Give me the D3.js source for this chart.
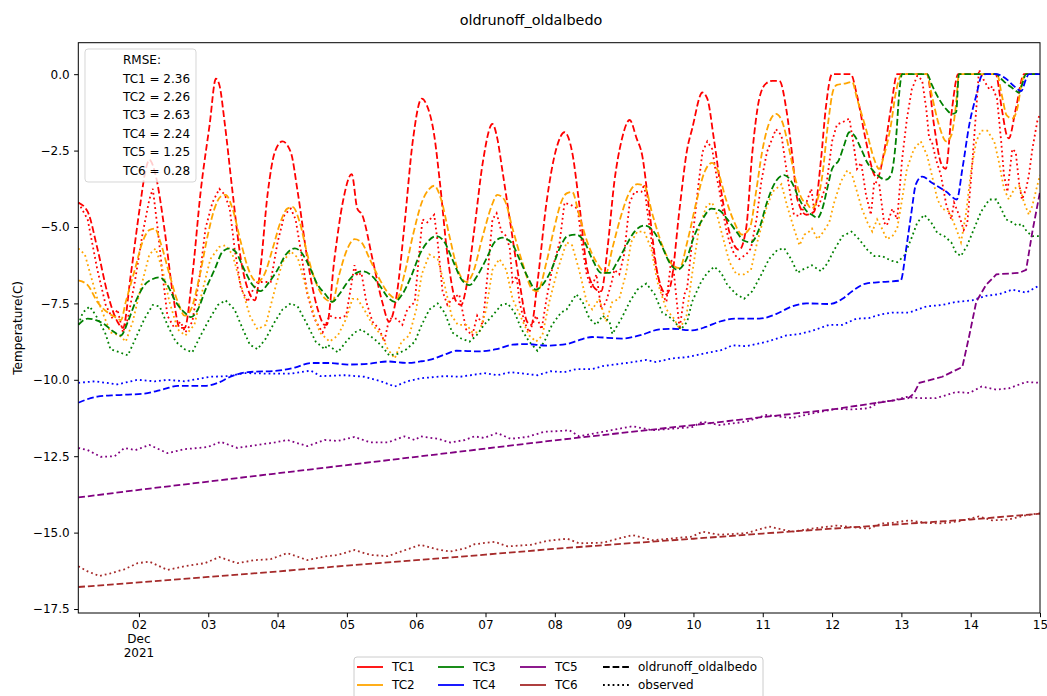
<!DOCTYPE html>
<html>
<head>
<meta charset="utf-8">
<script src="https://cdn.jsdelivr.net/npm/d3@7"></script>
<style>
  body { margin: 0; background: #fff; }
  svg { font-family: "DejaVu Sans", sans-serif; }
</style>
</head>
<body>
<svg id="chart" width="1047" height="696"></svg>
<script>
// values are [day of December 2021 (fractional), temperature C]
const tc1Model = [[1.125,-4.2],[1.26,-4.5],[1.40,-5.7],[1.55,-7.2],[1.69,-8.1],[1.77,-8.3],[1.88,-6.6],[2.01,-4.4],[2.10,-3.1],[2.15,-2.8],[2.24,-3.3],[2.37,-5.1],[2.49,-7.2],[2.59,-8.3],[2.66,-8.3],[2.77,-6.6],[2.89,-3.85],[3.02,-1.65],[3.11,-0.15],[3.16,-0.35],[3.24,-1.65],[3.35,-3.85],[3.47,-6.05],[3.60,-7.2],[3.67,-7.4],[3.74,-6.6],[3.86,-3.85],[3.96,-2.55],[4.07,-2.2],[4.19,-2.55],[4.29,-3.85],[4.43,-6.05],[4.58,-7.7],[4.68,-8.2],[4.71,-8.2],[4.82,-6.05],[4.94,-4.2],[5.07,-3.27],[5.15,-4.4],[5.22,-4.6],[5.37,-6.05],[5.51,-7.45],[5.61,-8.1],[5.72,-7.2],[5.83,-4.95],[5.95,-2.2],[6.08,-0.8],[6.15,-1.0],[6.26,-2.0],[6.34,-3.5],[6.45,-5.9],[6.58,-7.45],[6.65,-7.55],[6.72,-7.0],[6.84,-5.05],[6.96,-2.9],[7.10,-1.63],[7.17,-2.1],[7.24,-3.1],[7.34,-4.6],[7.49,-6.8],[7.60,-8.1],[7.66,-8.2],[7.75,-6.8],[7.88,-4.2],[8.02,-2.45],[8.14,-1.9],[8.25,-2.55],[8.35,-4.2],[8.47,-6.4],[8.60,-7.05],[8.67,-7.1],[8.76,-5.7],[8.86,-3.5],[8.96,-2.2],[9.08,-1.5],[9.18,-2.1],[9.26,-2.65],[9.36,-4.4],[9.48,-6.5],[9.61,-7.2],[9.68,-6.8],[9.80,-4.4],[9.91,-2.45],[9.98,-1.8],[10.13,-0.6],[10.20,-0.8],[10.30,-2.2],[10.42,-4.1],[10.55,-5.4],[10.66,-5.75],[10.76,-5.05],[10.85,-2.55],[10.95,-0.8],[11.05,-0.3],[11.14,-0.22],[11.24,-0.22],[11.34,-1.15],[11.42,-2.55],[11.50,-4.1],[11.63,-4.6],[11.74,-4.5],[11.84,-2.8],[11.91,-1.1],[12.00,0],[12.27,0],[12.36,-0.7],[12.49,-2.2],[12.61,-3.3],[12.65,-3.4],[12.75,-2.55],[12.85,-1.1],[12.94,0],[13.37,0],[13.47,-1.65],[13.57,-2.9],[13.64,-3.1],[13.73,-1.15],[13.82,0],[14.36,0],[14.45,-1.15],[14.52,-2.0],[14.55,-2.1],[14.65,-1.15],[14.77,0],[15.0,0]];

const tc1Obs = [[1.125,-4.2],[1.26,-4.75],[1.40,-6.4],[1.52,-7.55],[1.62,-8.0],[1.69,-7.7],[1.77,-8.45],[1.84,-8.0],[1.94,-6.8],[2.05,-5.25],[2.15,-4.1],[2.20,-3.75],[2.27,-5.05],[2.34,-6.55],[2.41,-7.9],[2.51,-8.3],[2.60,-8.1],[2.67,-8.45],[2.77,-8.1],[2.88,-6.55],[2.96,-5.05],[3.06,-4.2],[3.16,-3.75],[3.24,-3.95],[3.31,-4.4],[3.38,-5.7],[3.47,-7.0],[3.57,-7.45],[3.61,-7.2],[3.71,-6.8],[3.90,-6.8],[4.00,-5.5],[4.10,-4.6],[4.19,-4.4],[4.26,-4.75],[4.33,-5.7],[4.43,-7.2],[4.53,-8.0],[4.62,-8.35],[4.65,-8.45],[4.75,-7.9],[4.87,-8.0],[4.99,-7.9],[5.07,-6.8],[5.11,-6.25],[5.15,-6.6],[5.21,-6.5],[5.28,-7.45],[5.37,-8.1],[5.47,-8.35],[5.54,-8.75],[5.61,-8.0],[5.72,-8.0],[5.80,-8.2],[5.87,-7.7],[5.98,-7.45],[6.05,-5.7],[6.09,-4.75],[6.16,-4.85],[6.26,-4.6],[6.31,-5.5],[6.38,-7.1],[6.45,-7.55],[6.52,-7.35],[6.62,-7.2],[6.72,-8.35],[6.81,-8.55],[6.88,-7.9],[6.96,-8.2],[7.03,-6.55],[7.10,-4.75],[7.16,-4.55],[7.23,-5.15],[7.30,-5.3],[7.35,-5.7],[7.39,-6.8],[7.45,-6.6],[7.49,-7.45],[7.56,-8.1],[7.63,-8.45],[7.73,-7.9],[7.81,-8.35],[7.88,-7.35],[7.96,-6.4],[8.07,-5.5],[8.14,-4.2],[8.25,-4.3],[8.33,-4.4],[8.40,-5.7],[8.46,-6.55],[8.53,-7.0],[8.60,-6.55],[8.67,-7.7],[8.74,-7.45],[8.82,-6.8],[8.86,-6.4],[8.93,-6.55],[9.00,-5.9],[9.08,-4.2],[9.15,-3.85],[9.25,-3.85],[9.29,-3.6],[9.33,-4.4],[9.41,-5.7],[9.48,-6.55],[9.55,-7.2],[9.61,-7.45],[9.68,-6.05],[9.72,-6.55],[9.80,-8.35],[9.87,-7.2],[9.91,-7.0],[9.98,-5.5],[10.06,-3.85],[10.13,-2.55],[10.20,-2.2],[10.27,-2.45],[10.33,-3.3],[10.37,-3.75],[10.42,-4.4],[10.47,-5.05],[10.52,-5.5],[10.59,-5.9],[10.66,-6.05],[10.76,-5.9],[10.83,-5.7],[10.91,-4.75],[10.98,-3.5],[11.06,-2.55],[11.19,-1.8],[11.27,-2.0],[11.34,-3.1],[11.41,-4.1],[11.45,-4.6],[11.53,-4.65],[11.63,-4.2],[11.70,-3.75],[11.74,-4.4],[11.81,-4.3],[11.92,-3.6],[12.00,-2.2],[12.07,-1.65],[12.17,-1.55],[12.25,-1.45],[12.32,-2.45],[12.36,-3.1],[12.42,-2.9],[12.49,-3.95],[12.56,-4.6],[12.61,-3.5],[12.68,-3.6],[12.75,-4.85],[12.79,-4.95],[12.87,-4.4],[12.94,-4.75],[13.01,-2.8],[13.08,-1.45],[13.15,-0.5],[13.23,-0.05],[13.30,-0.2],[13.36,-1.15],[13.40,-2.1],[13.44,-2.2],[13.50,-2.8],[13.57,-3.3],[13.65,-4.3],[13.72,-4.75],[13.76,-4.2],[13.83,-4.6],[13.90,-5.1],[13.95,-4.9],[14.01,-3.3],[14.08,-1.15],[14.12,0.15],[14.19,-0.2],[14.27,-0.5],[14.31,-0.4],[14.38,-0.8],[14.44,-2.2],[14.48,-3.3],[14.53,-3.85],[14.60,-2.45],[14.65,-2.55],[14.70,-3.6],[14.74,-4.1],[14.80,-3.75],[14.84,-3.3],[14.89,-2.45],[14.96,-1.55],[15.0,-1.3]];

const tc2Model = [[1.125,-6.75],[1.26,-6.9],[1.40,-7.45],[1.55,-7.8],[1.66,-7.95],[1.74,-8.05],[1.81,-7.45],[1.94,-6.4],[2.05,-5.5],[2.15,-5.1],[2.23,-5.05],[2.31,-5.5],[2.44,-6.55],[2.56,-7.45],[2.66,-7.9],[2.75,-7.7],[2.88,-6.55],[2.99,-5.3],[3.09,-4.4],[3.18,-4.0],[3.25,-3.95],[3.35,-4.4],[3.47,-5.5],[3.60,-6.5],[3.71,-6.8],[3.81,-6.55],[3.93,-5.7],[4.04,-4.85],[4.14,-4.4],[4.22,-4.35],[4.32,-4.85],[4.43,-5.9],[4.55,-6.8],[4.69,-7.35],[4.79,-7.45],[4.89,-6.55],[5.01,-5.7],[5.11,-5.4],[5.21,-5.5],[5.33,-6.05],[5.47,-6.7],[5.61,-7.2],[5.72,-7.35],[5.83,-6.55],[5.95,-5.3],[6.08,-4.2],[6.19,-3.75],[6.26,-3.65],[6.36,-4.1],[6.48,-5.3],[6.60,-6.4],[6.73,-6.8],[6.81,-6.55],[6.96,-5.3],[7.09,-4.3],[7.17,-3.95],[7.27,-4.1],[7.39,-5.05],[7.53,-6.15],[7.68,-7.05],[7.75,-7.1],[7.88,-6.15],[7.99,-5.05],[8.09,-4.2],[8.17,-3.9],[8.25,-3.85],[8.35,-4.6],[8.47,-5.5],[8.60,-6.15],[8.74,-6.5],[8.83,-5.7],[8.96,-4.6],[9.08,-3.85],[9.19,-3.6],[9.29,-3.65],[9.41,-4.6],[9.55,-5.6],[9.70,-6.25],[9.80,-6.35],[9.91,-5.5],[10.04,-4.2],[10.16,-3.2],[10.27,-2.9],[10.34,-3.1],[10.47,-4.1],[10.59,-4.85],[10.70,-5.25],[10.81,-5.05],[10.91,-3.75],[10.99,-2.55],[11.12,-1.45],[11.19,-1.3],[11.28,-1.55],[11.38,-2.45],[11.48,-3.5],[11.57,-4.1],[11.63,-4.2],[11.70,-4.4],[11.79,-4.1],[11.86,-3.3],[11.94,-1.65],[12.02,-0.5],[12.07,-0.35],[12.20,-0.3],[12.29,-0.25],[12.36,-0.8],[12.49,-1.8],[12.61,-2.8],[12.68,-3.1],[12.75,-2.65],[12.85,-1.65],[12.92,-0.6],[13.01,0],[13.37,0],[13.44,-0.7],[13.54,-1.65],[13.65,-2.2],[13.72,-2.0],[13.79,-0.95],[13.83,0],[14.38,0],[14.45,-0.7],[14.52,-1.35],[14.60,-1.45],[14.67,-1.15],[14.74,-0.25],[14.80,0],[15.0,0]];

const tc2Obs = [[1.125,-5.7],[1.22,-5.9],[1.30,-6.55],[1.40,-7.35],[1.51,-8.0],[1.59,-8.45],[1.72,-8.55],[1.81,-8.75],[1.91,-8.1],[2.02,-7.05],[2.15,-5.9],[2.24,-5.7],[2.34,-6.4],[2.44,-7.45],[2.56,-8.35],[2.67,-8.55],[2.80,-8.2],[2.92,-7.05],[3.03,-6.05],[3.16,-5.65],[3.25,-5.6],[3.35,-5.9],[3.47,-6.9],[3.60,-7.9],[3.71,-8.35],[3.83,-8.2],[3.96,-7.05],[4.07,-6.15],[4.19,-5.8],[4.29,-6.0],[4.40,-6.9],[4.53,-7.9],[4.61,-8.45],[4.75,-8.75],[4.87,-8.55],[4.99,-8.0],[5.08,-7.35],[5.15,-7.35],[5.25,-7.7],[5.37,-8.2],[5.50,-8.55],[5.59,-9.0],[5.69,-9.3],[5.79,-8.75],[5.90,-8.55],[6.00,-7.7],[6.08,-6.55],[6.19,-5.9],[6.31,-6.05],[6.41,-6.9],[6.51,-7.9],[6.60,-8.2],[6.73,-8.2],[6.81,-8.45],[6.91,-8.45],[7.01,-7.7],[7.10,-6.4],[7.20,-6.05],[7.30,-6.4],[7.39,-7.35],[7.52,-8.0],[7.63,-8.55],[7.73,-8.75],[7.82,-8.55],[7.92,-7.45],[8.04,-6.4],[8.17,-5.5],[8.25,-5.6],[8.35,-6.4],[8.46,-7.45],[8.54,-7.7],[8.64,-7.35],[8.74,-8.1],[8.83,-7.45],[8.93,-7.35],[9.03,-6.5],[9.10,-5.5],[9.19,-5.15],[9.29,-5.15],[9.39,-5.7],[9.48,-6.8],[9.61,-7.7],[9.72,-8.0],[9.80,-8.35],[9.90,-7.9],[9.98,-6.55],[10.08,-5.05],[10.19,-4.3],[10.27,-4.2],[10.34,-4.6],[10.42,-5.3],[10.52,-6.15],[10.62,-6.55],[10.73,-6.55],[10.83,-6.4],[10.92,-5.5],[11.05,-4.4],[11.14,-3.85],[11.27,-3.6],[11.35,-4.3],[11.45,-5.05],[11.53,-5.6],[11.60,-5.25],[11.67,-5.15],[11.71,-5.05],[11.79,-5.4],[11.86,-5.2],[11.96,-4.85],[12.03,-4.2],[12.13,-3.5],[12.22,-3.15],[12.29,-3.3],[12.36,-3.85],[12.43,-4.4],[12.51,-4.85],[12.58,-5.15],[12.65,-4.75],[12.72,-5.05],[12.79,-5.4],[12.87,-5.3],[12.94,-5.05],[13.01,-4.1],[13.08,-3.1],[13.18,-2.45],[13.28,-2.2],[13.37,-2.65],[13.44,-3.3],[13.52,-4.1],[13.59,-4.4],[13.69,-4.5],[13.79,-5.05],[13.86,-5.5],[13.93,-4.6],[14.01,-3.1],[14.08,-2.2],[14.15,-1.85],[14.24,-1.85],[14.34,-2.2],[14.41,-2.9],[14.48,-3.75],[14.55,-4.1],[14.63,-3.75],[14.70,-3.65],[14.77,-4.2],[14.84,-4.6],[14.89,-4.3],[14.96,-3.65],[15.0,-3.3]];

const tc3Model = [[1.125,-8.2],[1.26,-8.0],[1.38,-8.05],[1.51,-8.2],[1.62,-8.4],[1.74,-8.55],[1.84,-8.1],[1.95,-7.45],[2.08,-6.9],[2.20,-6.7],[2.30,-6.65],[2.41,-6.9],[2.53,-7.45],[2.66,-7.8],[2.75,-7.95],[2.85,-7.7],[2.96,-7.05],[3.09,-6.4],[3.21,-5.8],[3.31,-5.7],[3.39,-5.8],[3.52,-6.4],[3.64,-6.9],[3.75,-7.1],[3.88,-6.8],[4.00,-6.4],[4.12,-5.9],[4.25,-5.7],[4.33,-5.8],[4.46,-6.3],[4.58,-6.9],[4.69,-7.2],[4.79,-7.45],[4.89,-7.2],[5.01,-6.8],[5.14,-6.5],[5.23,-6.45],[5.36,-6.6],[5.47,-6.9],[5.59,-7.3],[5.69,-7.45],[5.80,-7.2],[5.93,-6.6],[6.05,-5.9],[6.16,-5.5],[6.29,-5.3],[6.41,-5.5],[6.52,-6.05],[6.65,-6.7],[6.77,-6.9],[6.88,-6.6],[7.01,-6.05],[7.13,-5.5],[7.24,-5.35],[7.37,-5.5],[7.49,-6.05],[7.60,-6.6],[7.73,-7.05],[7.82,-6.9],[7.95,-6.4],[8.07,-5.7],[8.18,-5.3],[8.31,-5.25],[8.43,-5.5],[8.54,-6.05],[8.67,-6.5],[8.79,-6.5],[8.90,-6.15],[9.03,-5.6],[9.15,-5.15],[9.29,-4.95],[9.41,-5.1],[9.54,-5.6],[9.65,-6.15],[9.77,-6.4],[9.90,-6.05],[10.01,-5.3],[10.13,-4.75],[10.26,-4.4],[10.37,-4.45],[10.49,-4.75],[10.62,-5.15],[10.73,-5.45],[10.83,-5.5],[10.95,-5.05],[11.06,-4.2],[11.19,-3.5],[11.31,-3.3],[11.41,-3.5],[11.53,-4.1],[11.64,-4.5],[11.71,-4.6],[11.79,-4.7],[11.86,-4.4],[11.93,-3.75],[12.00,-3.1],[12.10,-2.8],[12.17,-2.35],[12.25,-1.9],[12.32,-2.0],[12.42,-2.45],[12.51,-2.9],[12.61,-3.2],[12.71,-3.4],[12.78,-3.45],[12.85,-3.3],[12.92,-2.2],[12.97,-0.6],[13.01,0],[13.37,0],[13.44,-0.35],[13.54,-0.8],[13.65,-1.15],[13.73,-1.3],[13.79,-1.25],[13.83,0],[14.37,0],[14.44,-0.15],[14.51,-0.3],[14.60,-0.45],[14.70,-0.6],[14.74,-0.35],[14.80,0],[15.0,0]];

const tc3Obs = [[1.125,-8.2],[1.19,-7.8],[1.29,-7.6],[1.38,-7.9],[1.51,-8.45],[1.59,-9.0],[1.72,-9.1],[1.84,-9.2],[1.95,-8.65],[2.08,-8.0],[2.20,-7.55],[2.30,-7.6],[2.41,-8.2],[2.53,-8.75],[2.66,-9.0],[2.77,-9.1],[2.89,-8.55],[3.02,-8.0],[3.14,-7.55],[3.25,-7.4],[3.38,-7.7],[3.50,-8.35],[3.60,-8.85],[3.71,-9.0],[3.83,-8.65],[3.96,-8.1],[4.07,-7.7],[4.19,-7.5],[4.29,-7.6],[4.43,-8.2],[4.55,-8.75],[4.68,-9.0],[4.72,-8.85],[4.87,-9.1],[4.99,-8.75],[5.11,-8.45],[5.21,-8.35],[5.33,-8.55],[5.44,-8.75],[5.54,-9.0],[5.61,-9.2],[5.73,-9.15],[5.86,-9.0],[5.98,-8.75],[6.08,-8.2],[6.19,-7.7],[6.31,-7.5],[6.41,-7.8],[6.52,-8.45],[6.65,-8.65],[6.77,-8.75],[6.87,-8.55],[6.98,-8.2],[7.10,-7.9],[7.23,-7.55],[7.32,-7.5],[7.42,-7.8],[7.52,-8.35],[7.63,-8.75],[7.75,-9.05],[7.85,-8.75],[7.96,-8.2],[8.09,-7.8],[8.17,-7.7],[8.31,-7.2],[8.40,-7.45],[8.50,-8.0],[8.60,-8.2],[8.69,-7.9],[8.79,-8.1],[8.83,-8.5],[8.96,-8.0],[9.08,-7.45],[9.19,-7.05],[9.32,-6.85],[9.44,-7.2],[9.55,-7.8],[9.69,-8.0],[9.82,-8.35],[9.91,-8.1],[9.98,-7.45],[10.11,-6.8],[10.20,-6.5],[10.30,-6.3],[10.40,-6.5],[10.49,-6.9],[10.62,-7.2],[10.73,-7.35],[10.85,-7.1],[10.98,-6.55],[11.09,-6.05],[11.21,-5.75],[11.31,-5.7],[11.41,-6.05],[11.50,-6.5],[11.57,-6.4],[11.67,-6.3],[11.71,-6.25],[11.84,-6.45],[11.93,-6.2],[12.03,-5.75],[12.15,-5.3],[12.28,-5.15],[12.39,-5.4],[12.51,-5.75],[12.61,-5.95],[12.72,-5.95],[12.85,-6.1],[12.94,-6.15],[13.04,-5.95],[13.14,-5.4],[13.23,-4.85],[13.33,-4.6],[13.43,-4.85],[13.52,-5.2],[13.62,-5.3],[13.72,-5.5],[13.79,-5.85],[13.86,-5.95],[13.95,-5.6],[14.05,-5.05],[14.15,-4.5],[14.27,-4.1],[14.37,-4.1],[14.44,-4.4],[14.51,-4.75],[14.60,-4.85],[14.67,-4.95],[14.74,-4.9],[14.81,-5.15],[14.89,-5.3],[15.0,-5.3]];

const tc4Model = [[1.125,-10.75],[1.40,-10.55],[1.69,-10.5],[2.08,-10.45],[2.37,-10.3],[2.56,-10.2],[2.95,-10.2],[3.14,-10.1],[3.32,-9.9],[3.57,-9.75],[4.00,-9.7],[4.25,-9.6],[4.48,-9.45],[4.76,-9.45],[5.01,-9.5],[5.30,-9.48],[5.59,-9.4],[5.87,-9.45],[6.06,-9.4],[6.19,-9.35],[6.44,-9.15],[6.58,-9.05],[6.91,-9.07],[7.16,-9.0],[7.39,-8.85],[7.59,-8.83],[7.88,-8.88],[8.17,-8.83],[8.35,-8.7],[8.54,-8.6],[8.97,-8.65],[9.22,-8.55],[9.51,-8.35],[9.69,-8.33],[9.98,-8.38],[10.18,-8.27],[10.37,-8.1],[10.62,-8.0],[10.95,-8.0],[11.19,-7.85],[11.42,-7.6],[11.63,-7.5],[11.96,-7.52],[12.15,-7.35],[12.29,-7.1],[12.49,-6.85],[12.72,-6.8],[12.99,-6.75],[13.07,-5.7],[13.14,-4.6],[13.21,-3.6],[13.30,-3.35],[13.44,-3.55],[13.65,-3.85],[13.80,-4.1],[13.88,-3.1],[13.98,-1.65],[14.08,-0.7],[14.16,-0.05],[14.22,0],[14.37,0],[14.51,-0.15],[14.63,-0.4],[14.73,-0.55],[14.80,-0.15],[14.84,0],[15.0,0]];

const tc4Obs = [[1.125,-10.1],[1.36,-10.05],[1.69,-10.15],[1.98,-10.0],[2.23,-10.05],[2.41,-10.0],[2.66,-10.05],[3.03,-9.9],[3.28,-9.88],[3.52,-9.78],[3.90,-9.8],[4.19,-9.8],[4.48,-9.7],[4.62,-9.88],[4.97,-9.85],[5.25,-9.9],[5.49,-10.05],[5.69,-10.22],[5.87,-10.05],[6.06,-9.95],[6.41,-9.88],[6.64,-9.9],[6.98,-9.78],[7.17,-9.85],[7.36,-9.75],[7.75,-9.85],[7.94,-9.72],[8.14,-9.75],[8.31,-9.65],[8.54,-9.65],[8.69,-9.55],[9.03,-9.45],[9.32,-9.35],[9.46,-9.42],[9.69,-9.3],[9.90,-9.26],[10.13,-9.15],[10.42,-9.02],[10.56,-8.87],[10.76,-8.9],[11.05,-8.76],[11.34,-8.55],[11.53,-8.5],[11.71,-8.4],[11.96,-8.2],[12.15,-8.2],[12.35,-8.0],[12.53,-7.98],[12.72,-7.85],[12.87,-7.8],[13.11,-7.8],[13.36,-7.6],[13.59,-7.55],[13.79,-7.45],[14.02,-7.4],[14.22,-7.25],[14.41,-7.2],[14.60,-7.05],[14.80,-7.15],[15.0,-6.9]];

const tc5Model = [[1.125,-13.85],[2,-13.6],[3,-13.33],[4,-13.06],[5,-12.79],[6,-12.52],[7,-12.25],[8,-11.98],[9,-11.73],[10,-11.48],[11,-11.22],[12,-10.97],[12.9,-10.67],[13.1,-10.6],[13.18,-10.45],[13.26,-10.1],[13.59,-9.9],[13.88,-9.58],[13.98,-8.55],[14.08,-7.45],[14.22,-6.9],[14.37,-6.55],[14.70,-6.5],[14.80,-6.4],[14.89,-5.15],[15.0,-3.85]];

const tc5Obs = [[1.125,-12.23],[1.26,-12.3],[1.45,-12.52],[1.65,-12.5],[1.79,-12.23],[1.95,-12.3],[2.15,-12.13],[2.41,-12.4],[2.66,-12.27],[2.99,-12.2],[3.18,-12.03],[3.42,-12.23],[3.71,-12.13],[3.96,-12.05],[4.14,-11.97],[4.43,-12.17],[4.68,-11.97],[4.87,-12.0],[5.11,-11.87],[5.34,-12.05],[5.59,-12.05],[5.83,-11.85],[5.98,-11.97],[6.06,-11.85],[6.31,-11.93],[6.49,-12.05],[6.70,-11.97],[6.84,-11.85],[6.98,-11.9],[7.17,-11.74],[7.36,-11.93],[7.60,-11.87],[7.85,-11.7],[8.04,-11.68],[8.21,-11.65],[8.35,-11.85],[8.69,-11.7],[9.12,-11.52],[9.41,-11.65],[9.98,-11.55],[10.13,-11.37],[10.37,-11.48],[10.76,-11.37],[11.05,-11.15],[11.42,-11.25],[11.71,-11.1],[12.06,-10.95],[12.29,-10.97],[12.53,-10.93],[12.68,-10.73],[12.87,-10.68],[13.07,-10.56],[13.26,-10.6],[13.50,-10.6],[13.65,-10.5],[13.79,-10.4],[13.98,-10.43],[14.16,-10.22],[14.37,-10.32],[14.55,-10.28],[14.80,-10.07],[15.0,-10.1]];

const tc6Model = [[1.125,-16.78],[2,-16.63],[3,-16.45],[4,-16.27],[5,-16.08],[6,-15.9],[7,-15.72],[8,-15.53],[9,-15.36],[10,-15.2],[11,-15.03],[12,-14.87],[13,-14.72],[14,-14.57],[15,-14.38]];

const tc6Obs = [[1.125,-16.1],[1.26,-16.27],[1.43,-16.42],[1.59,-16.33],[1.79,-16.2],[1.98,-16.0],[2.15,-15.95],[2.41,-16.22],[2.66,-16.1],[2.95,-16.0],[3.16,-15.8],[3.42,-16.0],[3.67,-15.9],[3.90,-15.87],[4.14,-15.67],[4.43,-15.9],[4.68,-15.78],[4.87,-15.73],[5.11,-15.57],[5.34,-15.73],[5.59,-15.77],[5.83,-15.58],[6.06,-15.4],[6.31,-15.55],[6.49,-15.62],[6.70,-15.52],[6.84,-15.38],[7.13,-15.3],[7.32,-15.45],[7.65,-15.4],[7.89,-15.27],[8.18,-15.2],[8.35,-15.35],[8.69,-15.33],[9.12,-15.08],[9.41,-15.25],[9.98,-15.13],[10.13,-14.97],[10.37,-15.07],[10.76,-15.02],[11.09,-14.8],[11.42,-14.97],[11.71,-14.87],[12.06,-14.77],[12.29,-14.82],[12.53,-14.87],[12.72,-14.7],[12.87,-14.68],[13.11,-14.6],[13.36,-14.68],[13.59,-14.7],[13.83,-14.63],[14.12,-14.47],[14.31,-14.6],[14.55,-14.57],[14.80,-14.43],[15.0,-14.37]];

const tcNames = ["TC1", "TC2", "TC3", "TC4", "TC5", "TC6"];
const tcColors = ["red", "orange", "green", "blue", "purple", "brown"];
const rmseValues = [2.36, 2.26, 2.63, 2.24, 1.25, 0.28];
const yTicks = [0, -2.5, -5, -7.5, -10, -12.5, -15, -17.5];
const xTickDays = d3.range(2, 16);

const series = [
  { name: "TC1", model: tc1Model, obs: tc1Obs, smooth: true },
  { name: "TC2", model: tc2Model, obs: tc2Obs, smooth: true },
  { name: "TC3", model: tc3Model, obs: tc3Obs, smooth: true },
  { name: "TC4", model: tc4Model, obs: tc4Obs, smooth: true },
  { name: "TC5", model: tc5Model, obs: tc5Obs, smooth: false },
  { name: "TC6", model: tc6Model, obs: tc6Obs, smooth: false },
];

const margin = { top: 42.7, right: 7, bottom: 83, left: 78.3 },
  width = 1047 - margin.left - margin.right,
  height = 696 - margin.top - margin.bottom;

const DASHED = "6.7,2.9";
const DOTTED = "1.8,3";

const toDate = (d) => new Date(Date.UTC(2021, 11, 1) + (d - 1) * 864e5);

const root = d3.select("#chart");
const svg = root
  .append("g")
  .attr("transform", `translate(${margin.left},${margin.top})`);

const x = d3.scaleUtc().domain([toDate(1.125), toDate(15)]).range([0, width]);
const y = d3.scaleLinear().domain([-17.63, 1.03]).range([height, 0]);

svg.append("defs").append("clipPath").attr("id", "plot-clip")
  .append("rect").attr("width", width).attr("height", height);

// Eje X
const xAxis = svg
  .append("g")
  .attr("transform", `translate(0,${height})`)
  .call(
    d3.axisBottom(x)
      .tickValues(xTickDays.map(toDate))
      .tickFormat(d3.utcFormat("%d"))
      .tickSize(4.2)
      .tickPadding(3)
      .tickSizeOuter(0)
  );
xAxis.select(".domain").remove();
xAxis.selectAll("text").attr("font-size", 12).attr("font-family", "DejaVu Sans").attr("fill", "#000");
xAxis.selectAll("line").attr("stroke", "#000");

// Dec / 2021 below the first tick
const firstX = x(toDate(2));
["Dec", "2021"].forEach((t, i) => {
  svg.append("text")
    .attr("x", firstX)
    .attr("y", height + 7.2 + 14 * (i + 1))
    .attr("dy", "0.71em")
    .attr("text-anchor", "middle")
    .attr("font-size", 12)
    .text(t);
});

// Eje Y
const yAxis = svg.append("g").call(
  d3.axisLeft(y)
    .tickValues(yTicks)
    .tickFormat(d3.format(".1f"))
    .tickSize(4.2)
    .tickPadding(4.5)
    .tickSizeOuter(0)
);
yAxis.select(".domain").remove();
yAxis.selectAll("text").attr("font-size", 12).attr("font-family", "DejaVu Sans").attr("fill", "#000");
yAxis.selectAll("line").attr("stroke", "#000");

// Etiqueta eje Y
root.append("text")
  .attr("transform", `translate(18,${margin.top + height / 2}) rotate(-90)`)
  .attr("text-anchor", "middle")
  .attr("dy", "0.35em")
  .attr("font-size", 12)
  .text("Temperature(C)");

// Título
root.append("text")
  .attr("x", 531)
  .attr("y", 20)
  .attr("dy", "0.35em")
  .attr("text-anchor", "middle")
  .attr("font-size", 14.4)
  .text("oldrunoff_oldalbedo");

// Lines
const plot = svg.append("g").attr("clip-path", "url(#plot-clip)");
series.forEach((s, i) => {
  const line = d3.line()
    .x((d) => x(toDate(d[0])))
    .y((d) => y(d[1]))
    .curve(s.smooth ? d3.curveMonotoneX : d3.curveLinear);
  plot.append("path")
    .datum(s.model)
    .attr("d", line)
    .attr("fill", "none")
    .attr("stroke", tcColors[i])
    .attr("stroke-width", 1.8)
    .attr("stroke-dasharray", DASHED);
  plot.append("path")
    .datum(s.obs)
    .attr("d", line.curve(d3.curveLinear))
    .attr("fill", "none")
    .attr("stroke", tcColors[i])
    .attr("stroke-width", 1.8)
    .attr("stroke-dasharray", DOTTED);
});

// frame
svg.append("rect")
  .attr("width", width)
  .attr("height", height)
  .attr("fill", "none")
  .attr("stroke", "#000")
  .attr("stroke-width", 1);

// RMSE box
const rm = root.append("g").attr("transform", "translate(85,49)");
rm.append("rect")
  .attr("width", 111)
  .attr("height", 133)
  .attr("rx", 3)
  .attr("fill", "#fff")
  .attr("fill-opacity", 0.8)
  .attr("stroke", "#ccc")
  .attr("stroke-opacity", 0.8);
const rmLines = ["RMSE:"].concat(tcNames.map((n, i) => `${n} = ${rmseValues[i].toFixed(2)}`));
rmLines.forEach((t, i) => {
  rm.append("text")
    .attr("x", 38)
    .attr("y", 11 + i * 18.4)
    .attr("dy", "0.35em")
    .attr("font-size", 12)
    .attr("fill", "#000")
    .text(t);
});

// Leyenda inferior
const lg = root.append("g").attr("transform", "translate(354,657)");
lg.append("rect")
  .attr("width", 409)
  .attr("height", 50)
  .attr("rx", 3)
  .attr("fill", "#fff")
  .attr("stroke", "#ccc");
const colX = [3, 84, 166, 249];
const rowY = [10, 28];
const legendItems = tcNames.map((n, i) => ({ label: n, color: tcColors[i], dash: null, col: Math.floor(i / 2), row: i % 2 }))
  .concat([
    { label: "oldrunoff_oldalbedo", color: "#000", dash: DASHED, col: 3, row: 0 },
    { label: "observed", color: "#000", dash: DOTTED, col: 3, row: 1 },
  ]);
legendItems.forEach((it) => {
  const gx = colX[it.col], gy = rowY[it.row];
  lg.append("line")
    .attr("x1", gx).attr("x2", gx + 26)
    .attr("y1", gy).attr("y2", gy)
    .attr("stroke", it.color)
    .attr("stroke-width", 1.8)
    .attr("stroke-dasharray", it.dash);
  lg.append("text")
    .attr("x", gx + 35)
    .attr("y", gy)
    .attr("dy", "0.35em")
    .attr("font-size", 12)
    .text(it.label);
});
</script>
</body>
</html>
